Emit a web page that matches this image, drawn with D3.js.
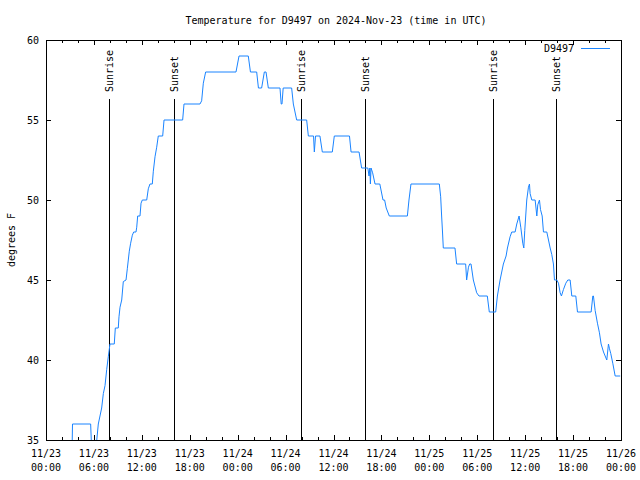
<!DOCTYPE html>
<html>
<head>
<meta charset="utf-8">
<script src="https://cdn.jsdelivr.net/npm/d3@7"></script>
<style>
  html, body { margin: 0; padding: 0; background: #fff; }
  svg text { font-family: "DejaVu Sans Mono", monospace; font-size: 10px; fill: #000; }
</style>
</head>
<body>
<svg id="chart" width="640" height="480"></svg>
<script>
// ---- data (hours since 2024-11-23 00:00 UTC, temperature in °F) ----
const hours = [0,3.25,3.32,5.59,5.75,6.2,6.26,6.55,6.97,7.18,7.39,7.6,7.8,8.01,8.55,8.68,9.05,9.14,9.27,9.48,9.68,10.02,10.18,10.43,10.6,10.81,10.98,11.27,11.36,11.48,11.77,11.9,12.06,12.61,12.81,13.02,13.31,13.44,13.65,13.86,14.06,14.61,14.78,17.11,17.28,19.28,19.49,19.7,19.99,23.79,24.17,
  25.33,25.6,26.38,26.6,27.0,27.34,27.55,27.84,29.3,29.45,29.55,29.7,30.76,30.97,31.39,32.64,32.85,33.5,33.6,33.75,34.3,34.6,35.85,36.1,38.0,38.2,39.2,39.52,40.3,40.45,40.55,40.62,40.7,40.9,41.2,41.8,42.0,42.2,42.4,42.6,42.99,45.25,45.45,45.7,
  49.25,49.42,49.54,49.65,49.75,51.21,51.42,52.55,52.67,52.9,53.05,53.22,53.51,53.93,54.22,55.26,55.51,56.31,56.52,56.86,57.27,57.61,57.78,58.11,58.32,58.74,58.95,59.24,59.45,59.70,59.83,59.95,60.20,60.41,60.54,60.62,60.83,61.25,61.46,61.58,61.79,61.92,62.13,62.29,62.71,62.92,63.13,63.33,63.54,63.67,63.96,64.17,64.38,64.54,64.79,65.09,65.34,65.63,65.84,66.34,66.55,68.26,68.47,68.55,68.76,69.05,69.30,69.51,69.81,70.22,70.43,70.56,70.72,70.97,71.27,71.90];
const temps = [34,34,36,36,34,34,34.5,36,37,37.9,38.4,39.4,40.2,41,41,42,42,42.7,43.3,43.75,44.9,45,45.7,46.8,47.3,47.8,48,48,48.3,49,49,49.8,50,50,50.7,51,51,51.8,52.7,53.3,54,54,55,55,56,56,56.2,57.3,58,58,59,
  59,58,58,57,57,58,58,57,57,56,56,57,57,56,55,55,54,54,53,54,54,53,53,54,54,53,53,52,52,51.5,52,51,52,51.7,51,51,50.5,50,50,49.5,49,49,50,51,
  51,50.2,49,48,47,47,46,46,45,45.8,46,46,45,44.2,44,44,43,43,44,45,46,46.5,47,47.7,48,48,48.5,49,48.3,47.3,47,48.1,50,50.8,51,50.4,50,50,49,49.7,50,49.4,49,48,48,47.5,47,46.6,46,45,45,44.8,44.2,44,44.4,44.8,45,45,44,44,43,43,44,44,43.1,42.3,41.7,41,40.5,40,41,40.7,40.4,39.8,39,39];
const sunHours  = [7.93, 16.07, 31.97, 39.98, 56.01, 63.90];
const sunLabels = ["Sunrise", "Sunset", "Sunrise", "Sunset", "Sunrise", "Sunset"];
const yTicks = [35, 40, 45, 50, 55, 60];
const seriesName = "D9497";
const titleText = "Temperature for D9497 on 2024-Nov-23 (time in UTC)";
const yLabel = "degrees F";

// ---- layout ----
const L = 46, R = 621, T = 40, B = 440;
const t0 = Date.UTC(2024, 10, 23, 0, 0);
const toDate = h => new Date(t0 + h * 3600000);
const lineColor = "#1a84ff";

const svg = d3.select("#chart");
const x = d3.scaleUtc().domain([toDate(0), toDate(72)]).range([L, R]);
const y = d3.scaleLinear().domain([35, 60]).range([B, T]);

const data = hours.map((h, i) => ({ t: toDate(h), v: temps[i] }));

// clip
svg.append("defs").append("clipPath").attr("id", "clip")
  .append("rect").attr("x", L).attr("y", T).attr("width", R - L).attr("height", B - T);

// title
svg.append("text").attr("x", 336).attr("y", 24).attr("text-anchor", "middle").text(titleText);

// y label
svg.append("text").attr("transform", "translate(15,240) rotate(-90)")
  .attr("text-anchor", "middle").text(yLabel);

// ticks
const g = svg.append("g").attr("shape-rendering", "crispEdges").attr("stroke", "#000").attr("stroke-width", 1);
const major = x.ticks(d3.utcHour.every(6));
const minor = x.ticks(d3.utcHour.every(2)).filter(d => d.getUTCHours() % 6 !== 0);
major.forEach(d => {
  const px = Math.round(x(d)) + 0.5;
  g.append("line").attr("x1", px).attr("x2", px).attr("y1", B).attr("y2", B - 5);
  g.append("line").attr("x1", px).attr("x2", px).attr("y1", T).attr("y2", T + 5);
});
minor.forEach(d => {
  const px = Math.round(x(d)) + 0.5;
  g.append("line").attr("x1", px).attr("x2", px).attr("y1", B).attr("y2", B - 3);
  g.append("line").attr("x1", px).attr("x2", px).attr("y1", T).attr("y2", T + 3);
});
yTicks.forEach(v => {
  const py = Math.round(y(v)) + 0.5;
  g.append("line").attr("x1", L).attr("x2", L + 5).attr("y1", py).attr("y2", py);
  g.append("line").attr("x1", R).attr("x2", R - 5).attr("y1", py).attr("y2", py);
});

// tick labels
const fmt1 = d3.utcFormat("%m/%d"), fmt2 = d3.utcFormat("%H:%M");
major.forEach(d => {
  const t = svg.append("text").attr("x", x(d)).attr("y", 457).attr("text-anchor", "middle");
  t.append("tspan").attr("x", x(d)).text(fmt1(d));
  t.append("tspan").attr("x", x(d)).attr("y", 471).text(fmt2(d));
});
yTicks.forEach(v => {
  svg.append("text").attr("x", 39).attr("y", y(v) + 4).attr("text-anchor", "end").text(v);
});

// sunrise / sunset lines
sunHours.forEach((h, i) => {
  const px = Math.round(x(toDate(h))) + 0.5;
  g.append("line").attr("x1", px).attr("x2", px).attr("y1", 99).attr("y2", B);
  svg.append("text").attr("transform", `translate(${px + 3.5},92) rotate(-90)`)
    .attr("text-anchor", "start").text(sunLabels[i]);
});

// data line
svg.append("path").datum(data)
  .attr("clip-path", "url(#clip)")
  .attr("fill", "none").attr("stroke", lineColor).attr("stroke-width", 1)
  .attr("d", d3.line().x(d => x(d.t)).y(d => y(d.v)));

// legend
svg.append("text").attr("x", 574).attr("y", 52).attr("text-anchor", "end").text(seriesName);
svg.append("line").attr("x1", 581).attr("x2", 610).attr("y1", 48.5).attr("y2", 48.5)
  .attr("stroke", lineColor).attr("stroke-width", 1);

// border
svg.append("rect").attr("x", L + 0.5).attr("y", T + 0.5).attr("width", R - L).attr("height", B - T)
  .attr("fill", "none").attr("stroke", "#000").attr("stroke-width", 1).attr("shape-rendering", "crispEdges");
</script>
</body>
</html>
